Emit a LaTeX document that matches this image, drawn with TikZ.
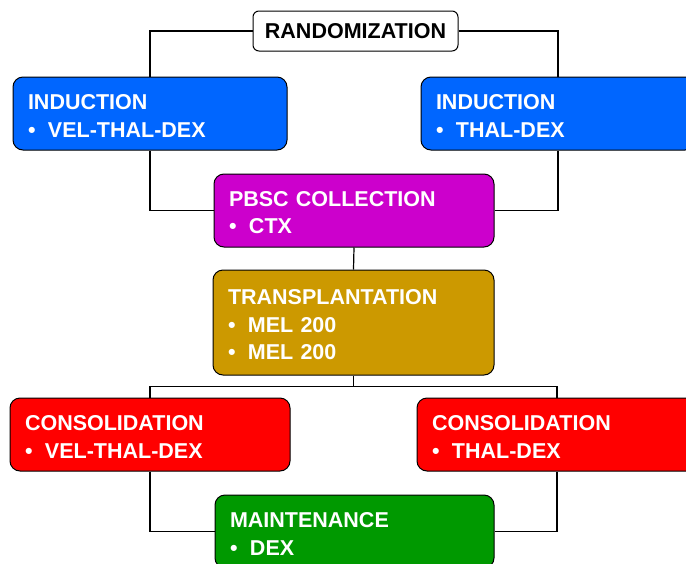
\documentclass[tikz,border=0pt]{standalone}
\usepackage{fontspec}
\setmainfont{Liberation Sans}
\usetikzlibrary{positioning}

\definecolor{indblue}{RGB}{0,102,255}
\definecolor{pbscmag}{RGB}{204,0,204}
\definecolor{txgold}{RGB}{204,153,0}
\definecolor{consred}{RGB}{255,0,0}
\definecolor{maintgreen}{RGB}{0,153,0}

\tikzset{
  stage/.style={draw=black, line width=1pt, rounded corners=10pt, text=white,
    font=\bfseries\fontsize{21.5pt}{27.5pt}\selectfont, align=left,
    inner xsep=15pt, inner ysep=0pt, minimum height=73pt,
    execute at begin node={\rule{0pt}{19.5pt}}},
  link/.style={line width=1.2pt}
}
\newcommand{\itm}{\makebox[20pt][l]{\textbullet}}

\begin{document}
\begin{tikzpicture}[x=1pt,y=-1pt]
\useasboundingbox (0,0) rectangle (686,563);
\clip (0,0) rectangle (686,563);

\node [draw=black, line width=1pt, rounded corners=6pt, fill=white, minimum width=205pt, minimum height=40pt, inner sep=0pt, font=\bfseries\fontsize{21.5pt}{25pt}\selectfont] (rand) at (355.5,31) {RANDOMIZATION};

\node [stage, fill=indblue, text width=244pt] (indA) at (150,113.5) {INDUCTION\\\itm VEL-THAL-DEX};
\node [stage, fill=indblue, text width=244pt] (indB) at (558,113.5) {INDUCTION\\\itm THAL-DEX};

\node [stage, fill=pbscmag, text width=250pt] (pbsc) at (354,210.5) {PBSC COLLECTION\\\itm CTX};
\node [stage, fill=txgold, text width=251pt, minimum height=105pt] (tx) at (353.5,322.5) {TRANSPLANTATION\\\itm MEL 200\\\itm MEL 200};
\coordinate [below=11pt of tx] (split);

\node [stage, fill=consred, text width=250pt] (consA) at (150,434.5) {CONSOLIDATION\\\itm VEL-THAL-DEX};
\node [stage, fill=consred, text width=250pt] (consB) at (557,434.5) {CONSOLIDATION\\\itm THAL-DEX};

\node [stage, fill=maintgreen, text width=249pt] (maint) at (354.5,531.5) {MAINTENANCE\\\itm DEX};

\draw [link] (rand.west) -| (indA.north);
\draw [link] (rand.east) -| (indB.north);
\draw [link] (indA.south) |- (pbsc.west);
\draw [link] (indB.south) |- (pbsc.east);
\draw [link] (pbsc.south) -- (tx.north);
\draw [link] (tx.south) -- (split) -| (consA.north);
\draw [link] (split) -| (consB.north);
\draw [link] (consA.south) |- (maint.west);
\draw [link] (consB.south) |- (maint.east);
\end{tikzpicture}
\end{document}
